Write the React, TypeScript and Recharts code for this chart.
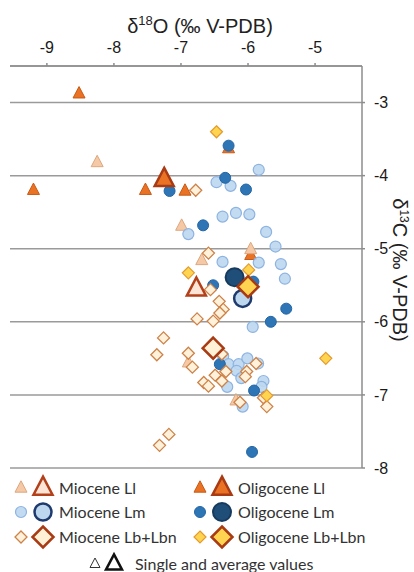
import React from 'react';
import { ScatterChart, Scatter, XAxis, YAxis, CartesianGrid, Label } from 'recharts';

// δ18O (x) and δ13C (y), ‰ V-PDB
const miocLl = [
    { x: -8.25, y: -3.82 }, { x: -6.99, y: -4.69 }, { x: -5.96, y: -5.01 },
    { x: -6.69, y: -5.16 }, { x: -6.89, y: -6.56 }, { x: -6.18, y: -7.08 },
];
const miocLlAvg = [{ x: -6.77, y: -5.55 }];

const oligLl = [
    { x: -8.52, y: -2.88 }, { x: -9.2, y: -4.2 }, { x: -7.53, y: -4.2 },
    { x: -6.94, y: -4.21 }, { x: -6.29, y: -3.63 }, { x: -5.96, y: -5.09 },
];
const oligLlAvg = [{ x: -7.25, y: -4.05 }];

const miocLm = [
    { x: -5.84, y: -3.92 }, { x: -6.47, y: -4.09 }, { x: -6.26, y: -4.14 },
    { x: -6.38, y: -4.56 }, { x: -6.18, y: -4.51 }, { x: -5.98, y: -4.53 },
    { x: -6.89, y: -4.8 }, { x: -5.73, y: -4.77 }, { x: -5.59, y: -4.97 },
    { x: -6.38, y: -5.18 }, { x: -5.84, y: -5.19 }, { x: -5.51, y: -5.21 },
    { x: -5.45, y: -5.41 }, { x: -5.93, y: -6.07 }, { x: -6.37, y: -6.47 },
    { x: -6.29, y: -6.58 }, { x: -6.14, y: -6.58 }, { x: -6.01, y: -6.5 },
    { x: -6.17, y: -6.67 }, { x: -6.1, y: -6.77 }, { x: -6.31, y: -6.89 },
    { x: -5.77, y: -6.81 }, { x: -5.8, y: -6.89 }, { x: -5.85, y: -6.57 },
    { x: -6.08, y: -7.16 },
];
const miocLmAvg = [{ x: -6.08, y: -5.68 }];

const oligLm = [
    { x: -7.17, y: -4.21 }, { x: -6.67, y: -4.68 }, { x: -6.29, y: -3.59 },
    { x: -6.34, y: -4.03 }, { x: -6.03, y: -4.19 }, { x: -6.52, y: -5.5 },
    { x: -5.92, y: -5.45 }, { x: -5.43, y: -5.82 }, { x: -5.66, y: -6.0 },
    { x: -6.42, y: -6.58 }, { x: -5.91, y: -6.94 }, { x: -5.94, y: -7.78 },
];
const oligLmAvg = [{ x: -6.2, y: -5.39 }];

const miocLb = [
    { x: -6.78, y: -4.2 }, { x: -6.59, y: -5.06 }, { x: -6.56, y: -5.56 },
    { x: -6.43, y: -5.72 }, { x: -6.37, y: -5.83 }, { x: -6.42, y: -5.88 },
    { x: -6.76, y: -5.96 }, { x: -6.52, y: -5.99 }, { x: -7.26, y: -6.22 },
    { x: -7.36, y: -6.45 }, { x: -6.89, y: -6.43 }, { x: -6.83, y: -6.62 },
    { x: -6.39, y: -6.44 }, { x: -6.33, y: -6.68 }, { x: -6.49, y: -6.73 },
    { x: -6.39, y: -6.81 }, { x: -6.66, y: -6.83 }, { x: -6.59, y: -6.88 },
    { x: -6.02, y: -6.68 }, { x: -6.04, y: -6.75 }, { x: -5.88, y: -6.57 },
    { x: -6.12, y: -7.1 }, { x: -5.77, y: -7.04 }, { x: -5.72, y: -7.16 },
    { x: -7.18, y: -7.54 }, { x: -7.32, y: -7.69 },
];
const miocLbAvg = [{ x: -6.52, y: -6.36 }];

const oligLb = [
    { x: -6.47, y: -3.4 }, { x: -6.89, y: -5.33 }, { x: -5.99, y: -5.29 },
    { x: -4.84, y: -6.5 }, { x: -5.72, y: -7.01 },
];
const oligLbAvg = [{ x: -6.0, y: -5.52 }];

const xTicks = [-9, -8, -7, -6, -5];
const yTicks = [-8, -7, -6, -5, -4, -3];

const legendNames = ['Miocene Ll', 'Oligocene Ll', 'Miocene Lm', 'Oligocene Lm', 'Miocene Lb+Lbn', 'Oligocene Lb+Lbn'];
const legendNote = 'Single and average values';

type Kind = 'tri' | 'circle' | 'diamond';
interface Style { kind: Kind; fill: string; stroke: string; sw: number; size: number; op?: number }

const small: Record<string, Style> = {
    miocLl: { kind: 'tri', fill: '#F5C9A6', stroke: '#DDA77F', sw: 1, size: 12 },
    oligLl: { kind: 'tri', fill: '#E97225', stroke: '#C85A15', sw: 1, size: 12 },
    miocLm: { kind: 'circle', fill: '#BDD7EE', stroke: '#8DB3E2', sw: 1.2, size: 11, op: 0.9 },
    oligLm: { kind: 'circle', fill: '#2E75B6', stroke: '#2466A6', sw: 1, size: 11 },
    miocLb: { kind: 'diamond', fill: '#FFF1DA', stroke: '#CD8248', sw: 1.3, size: 12 },
    oligLb: { kind: 'diamond', fill: '#FFD450', stroke: '#E49A2E', sw: 1.2, size: 12 },
};
const big: Record<string, Style> = {
    miocLl: { kind: 'tri', fill: '#FCE4D6', stroke: '#B2401A', sw: 2.5, size: 19 },
    oligLl: { kind: 'tri', fill: '#E97225', stroke: '#A83A14', sw: 2.5, size: 19 },
    miocLm: { kind: 'circle', fill: '#BDD7EE', stroke: '#1F3B6E', sw: 2.5, size: 17 },
    oligLm: { kind: 'circle', fill: '#1F4E79', stroke: '#173B5E', sw: 2, size: 18 },
    miocLb: { kind: 'diamond', fill: '#FFF1D6', stroke: '#A83A14', sw: 2.5, size: 21 },
    oligLb: { kind: 'diamond', fill: '#FFD450', stroke: '#A83A14', sw: 2.5, size: 21 },
};

const Marker = ({ cx, cy, s }: { cx: number; cy: number; s: Style }) => {
    const h = s.size;
    if (s.kind === 'circle') {
        return <circle cx={cx} cy={cy} r={h / 2} fill={s.fill} fillOpacity={s.op ?? 1} stroke={s.stroke} strokeWidth={s.sw} />;
    }
    if (s.kind === 'tri') {
        const pts = `${cx},${cy - h * 0.6} ${cx + h / 2},${cy + h * 0.35} ${cx - h / 2},${cy + h * 0.35}`;
        return <polygon points={pts} fill={s.fill} stroke={s.stroke} strokeWidth={s.sw} strokeLinejoin="miter" />;
    }
    const r = h / 2;
    const pts = `${cx},${cy - r} ${cx + r},${cy} ${cx},${cy + r} ${cx - r},${cy}`;
    return <polygon points={pts} fill={s.fill} stroke={s.stroke} strokeWidth={s.sw} />;
};

const shapeOf = (s: Style) => (p: any) => <Marker cx={p.cx} cy={p.cy} s={s} />;

const tickFont = { fontFamily: 'Liberation Sans, Arial, sans-serif', fontSize: 16, fill: '#1a1a1a' };
const textFont = 'Lato, sans-serif';

const Legend = () => {
    const keys = ['miocLl', 'oligLl', 'miocLm', 'oligLm', 'miocLb', 'oligLb'];
    const rows = [488, 512, 537];
    return (
        <svg width={414} height={100} style={{ position: 'absolute', left: 0, top: 472 }}>
            {keys.map((k, i) => {
                const col = i % 2;
                const y = rows[Math.floor(i / 2)] - 472;
                const x0 = col === 0 ? 21 : 200;
                return (
                    <g key={k}>
                        <Marker cx={x0} cy={y} s={small[k]} />
                        <Marker cx={x0 + 22} cy={y} s={big[k]} />
                        <text x={x0 + 38} y={y + 6} fontFamily={textFont} fontSize={16} fill="#333">
                            {legendNames[i]}
                        </text>
                    </g>
                );
            })}
            <Marker cx={95} cy={92} s={{ kind: 'tri', fill: '#fff', stroke: '#333', sw: 1, size: 10 }} />
            <Marker cx={114} cy={92} s={{ kind: 'tri', fill: '#fff', stroke: '#111', sw: 2.5, size: 16 }} />
            <text x={135} y={98} fontFamily={textFont} fontSize={16} fill="#333">{legendNote}</text>
        </svg>
    );
};

export default function App() {
    const order: [string, any[], Style][] = [
        ['oligLl', oligLl, small.oligLl],
        ['miocLl', miocLl, small.miocLl],
        ['miocLm', miocLm, small.miocLm],
        ['oligLm', oligLm, small.oligLm],
        ['miocLb', miocLb, small.miocLb],
        ['oligLb', oligLb, small.oligLb],
        ['miocLmAvg', miocLmAvg, big.miocLm],
        ['oligLmAvg', oligLmAvg, big.oligLm],
        ['miocLbAvg', miocLbAvg, big.miocLb],
        ['oligLbAvg', oligLbAvg, big.oligLb],
        ['miocLlAvg', miocLlAvg, big.miocLl],
        ['oligLlAvg', oligLlAvg, big.oligLl],
    ];
    return (
        <div style={{ position: 'absolute', left: 0, top: 0, width: 414, height: 572, background: '#fff' }}>
            <ScatterChart width={414} height={572} margin={{ top: 30, right: 0, bottom: 104, left: 10 }}>
                <CartesianGrid horizontal vertical={false} stroke="#9a9a9a" strokeWidth={1.5} />
                <XAxis
                    type="number" dataKey="x" orientation="top" height={36}
                    domain={[-9.55, -4.3]} ticks={xTicks} allowDataOverflow
                    stroke="#8c8c8c" strokeWidth={1.5} tickSize={3} tickMargin={10} tick={tickFont}
                >
                    <Label content={() => (
                        <text x={200} y={33} textAnchor="middle" fontFamily="Liberation Sans, Arial, sans-serif" fontSize={20} fill="#222">
                            δ<tspan fontSize={13} dy={-8}>18</tspan><tspan dy={8}>O (‰ V-PDB)</tspan>
                        </text>
                    )} />
                </XAxis>
                <YAxis
                    type="number" dataKey="y" orientation="right" width={52}
                    domain={[-8, -2.5]} ticks={yTicks} allowDataOverflow
                    stroke="#8c8c8c" strokeWidth={1.5} tickSize={3} tickMargin={9} tick={tickFont}
                >
                    <Label content={() => (
                        <text x={393} y={270} transform="rotate(90 393 270)" textAnchor="middle" fontFamily="Liberation Sans, Arial, sans-serif" fontSize={20} fill="#222">
                            δ<tspan fontSize={12} dy={-7}>13</tspan><tspan dy={7}>C (‰ V-PDB)</tspan>
                        </text>
                    )} />
                </YAxis>
                {order.map(([name, data, s]) => (
                    <Scatter key={name} name={name} data={data} shape={shapeOf(s)} isAnimationActive={false} />
                ))}
            </ScatterChart>
            <Legend />
        </div>
    );
}
